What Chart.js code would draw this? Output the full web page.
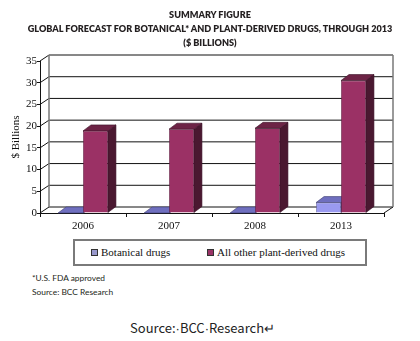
<!DOCTYPE html>
<html>
<head>
<meta charset="utf-8">
<script src="https://cdn.jsdelivr.net/npm/chart.js@4/dist/chart.umd.min.js"></script>
<style>
  html, body { margin: 0; padding: 0; background: #fff; }
  #page { position: relative; width: 420px; height: 341px; overflow: hidden; background: #fff; }
  #title { position: absolute; left: 0; top: 8px; width: 420px; text-align: center;
           font: 800 9.1px Lato, "Open Sans", sans-serif; line-height: 13.75px; color: #231f20; }
  #wrap { position: absolute; left: 0; top: 0; width: 420px; height: 235px; }
  #legend { position: absolute; left: 73px; top: 239px; width: 290px; height: 23px;
            border: 2px solid #7a7a7a; font: 11px "Liberation Serif", serif; color: #111; }
  #legend .item { position: absolute; top: 0; line-height: 23px; white-space: nowrap; }
  #legend .mark { display: inline-block; width: 5px; height: 5px; border: 1px solid #333;
                  vertical-align: middle; margin-right: 3px; position: relative; top: -1px; }
  .note { position: absolute; left: 32px; font: 8.4px Lato, sans-serif; color: #231f20;
          line-height: 12px; white-space: nowrap; }
  #source { position: absolute; left: 130px; top: 320px; font: 13px "Noto Sans CJK JP", sans-serif;
            line-height: 16px; color: #222; white-space: nowrap; }
  #source .dot { font-family: "Liberation Sans", sans-serif; }
</style>
</head>
<body>
<div id="page">
  <div id="wrap"><canvas id="chart" width="420" height="235"></canvas></div>
  <div id="title">SUMMARY FIGURE<br>GLOBAL FORECAST FOR BOTANICAL* AND PLANT-DERIVED DRUGS, THROUGH 2013<br>($ BILLIONS)</div>
  <div id="legend"></div>
  <div class="note" style="top:272px">*U.S. FDA approved</div>
  <div class="note" style="top:286px">Source: BCC Research</div>
  <div id="source">Source:<span class="dot">·</span>BCC<span class="dot">·</span>Research↵</div>
</div>
<script>
// Forecast years and values ($ billions)
const categories = ['2006', '2007', '2008', '2013'];
const botanicalDrugs = [0, 0, 0, 2.4];
const otherPlantDerivedDrugs = [18.9, 19.3, 19.5, 30.5];
const seriesNames = ['Botanical drugs', 'All other plant-derived drugs'];
const yTickValues = [0, 5, 10, 15, 20, 25, 30, 35];
const yAxisTitle = '$ Billions';

// Face shading for the extruded bars
const palettes = [
  { front: '#9a9af0', top: '#6f6fbf', side: '#4e4e8c', edge: '#3c3c6e', key: '#9999cc' },
  { front: '#9b3165', top: '#6d2446', side: '#4a1830', edge: '#3a1026', key: '#993366' }
];
const WALL = { dx: 9, dy: -6 };
const BAR = { dx: 8, dy: -6 };

function poly(ctx, pts, fill, stroke) {
  ctx.beginPath();
  ctx.moveTo(pts[0][0], pts[0][1]);
  for (let i = 1; i < pts.length; i++) ctx.lineTo(pts[i][0], pts[i][1]);
  ctx.closePath();
  if (fill) { ctx.fillStyle = fill; ctx.fill(); }
  if (stroke) { ctx.strokeStyle = stroke; ctx.lineWidth = 0.6; ctx.stroke(); }
}

// Walls, floor and gridlines of the 3-D box
const box3d = {
  id: 'box3d',
  beforeDraw(chart) {
    const { ctx, chartArea: { left, right, top, bottom }, scales: { y } } = chart;
    const { dx, dy } = WALL;
    ctx.save();
    ctx.lineWidth = 1;
    ctx.strokeStyle = '#111';
    yTickValues.forEach(v => {
      const py = y.getPixelForValue(v);
      ctx.beginPath();
      ctx.moveTo(left, py);
      ctx.lineTo(left + dx, py + dy);
      ctx.lineTo(right + dx, py + dy);
      ctx.stroke();
    });
    // floor right edge
    ctx.beginPath();
    ctx.moveTo(right, bottom);
    ctx.lineTo(right + dx, bottom + dy);
    ctx.stroke();
    // back wall side edges
    ctx.strokeStyle = '#7a7a7a';
    ctx.lineWidth = 1.5;
    ctx.beginPath();
    ctx.moveTo(left + dx, top + dy); ctx.lineTo(left + dx, bottom + dy);
    ctx.moveTo(right + dx, top + dy); ctx.lineTo(right + dx, bottom + dy);
    ctx.stroke();
    ctx.restore();
  },
  beforeDatasetsDraw(chart) {
    const { ctx } = chart;
    const { dx, dy } = BAR;
    ctx.save();
    chart.data.datasets.forEach((ds, i) => {
      const pal = palettes[i];
      chart.getDatasetMeta(i).data.forEach(bar => {
        const { x, y, base, width } = bar.getProps(['x', 'y', 'base', 'width'], true);
        const l = x - width / 2, r = x + width / 2;
        poly(ctx, [[r, y], [r + dx, y + dy], [r + dx, base + dy], [r, base]], pal.side, pal.edge);
        poly(ctx, [[l, y], [l + dx, y + dy], [r + dx, y + dy], [r, y]], pal.top, pal.edge);
      });
    });
    ctx.restore();
  }
};

const serif = { family: '"Liberation Serif", "Times New Roman", serif', size: 11 };

const chart = new Chart(document.getElementById('chart'), {
  type: 'bar',
  data: {
    labels: categories,
    datasets: [
      { label: seriesNames[0], data: botanicalDrugs, backgroundColor: palettes[0].front,
        borderColor: palettes[0].edge, borderWidth: 0.6 },
      { label: seriesNames[1], data: otherPlantDerivedDrugs, backgroundColor: palettes[1].front,
        borderColor: palettes[1].edge, borderWidth: 0.6 }
    ]
  },
  options: {
    responsive: false,
    animation: false,
    devicePixelRatio: 1,
    layout: { padding: { left: 0, top: 61, right: 36, bottom: 0 } },
    datasets: { bar: { categoryPercentage: 0.58, barPercentage: 1.0 } },
    plugins: { legend: { display: false }, tooltip: { enabled: false }, title: { display: false } },
    scales: {
      x: {
        afterFit(s) { s.height = 22; },
        grid: { display: true, drawOnChartArea: false, drawTicks: true, tickLength: 4, color: '#111', offset: true },
        border: { display: true, color: '#111', width: 1 },
        ticks: { font: serif, color: '#111', padding: 3 }
      },
      y: {
        min: 0, max: 35,
        afterFit(s) { s.width = 40; },
        afterBuildTicks(s) { s.ticks = yTickValues.map(v => ({ value: v })); },
        grid: { display: true, drawOnChartArea: false, drawTicks: true, tickLength: 3, color: '#111' },
        border: { display: true, color: '#111', width: 1 },
        ticks: { font: serif, color: '#111', padding: 0 },
        title: { display: true, text: yAxisTitle, font: serif, color: '#111', padding: { top: 10, bottom: 0 } }
      }
    }
  },
  plugins: [box3d]
});

// Legend built from the chart's datasets
const legendEl = document.getElementById('legend');
const itemLeft = [16, 132];
chart.data.datasets.forEach((ds, i) => {
  const item = document.createElement('span');
  item.className = 'item';
  item.style.left = itemLeft[i] + 'px';
  const mark = document.createElement('span');
  mark.className = 'mark';
  mark.style.background = palettes[i].key;
  item.appendChild(mark);
  item.appendChild(document.createTextNode(ds.label));
  legendEl.appendChild(item);
});
</script>
</body>
</html>
